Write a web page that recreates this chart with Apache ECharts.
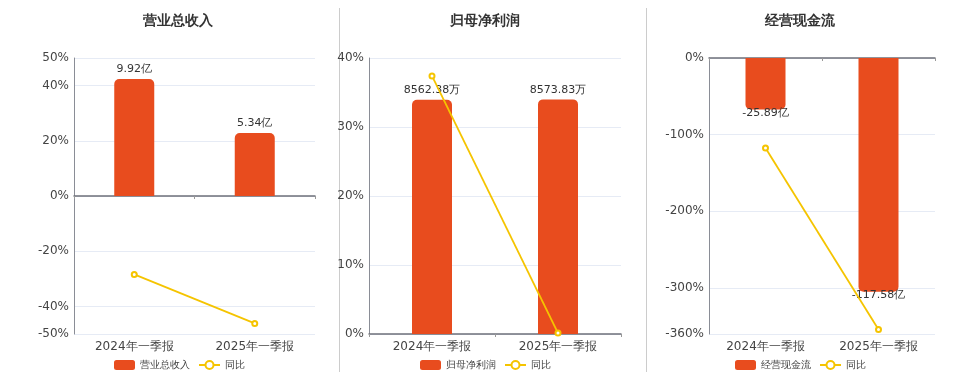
<!DOCTYPE html>
<html><head><meta charset="utf-8">
<script src="https://cdn.jsdelivr.net/npm/echarts@6/dist/echarts.min.js"></script>
<style>html,body{margin:0;padding:0;background:#fff}#c{width:960px;height:372px}</style>
</head><body><div id="c"></div>
<script>
const categories = ['2024年一季报', '2025年一季报'];
const titles = ['营业总收入', '归母净利润', '经营现金流'];
const revenue = [9.92, 5.34];
const revenueYoY = [-28.4, -46.17];
const profit = [8562.38, 8573.83];
const profitYoY = [37.4, 0.13];
const cashflow = [-25.89, -117.58];
const cashflowYoY = [-117.3, -354.15];
const units = ['亿', '万', '亿'];

const barColor = '#e84c1e';
const lineColor = '#f5c400';
const panels = [
  {title: titles[0], bars: revenue, yoy: revenueYoY, unit: units[0], grid: {left: 74, right: 645, top: 58, bottom: 38},
   pMin: -50, pMax: 50, bMin: -11.7, bMax: 11.7, titleX: 173, legendX: 109, neg: false},
  {title: titles[1], bars: profit, yoy: profitYoY, unit: units[1], grid: {left: 369, right: 339, top: 58, bottom: 38},
   pMin: 0, pMax: 40, bMin: 0, bMax: 10087, titleX: 480, legendX: 415, neg: false},
  {title: titles[2], bars: cashflow, yoy: cashflowYoY, unit: units[2], grid: {left: 709, right: 25, top: 58, bottom: 38},
   pMin: -360, pMax: 0, bMin: -138.9, bMax: 0, titleX: 795, legendX: 730, neg: true}
];

const option = {
  animation: false,
  textStyle: {fontFamily: 'DejaVu Sans, sans-serif'},
  title: [], legend: [], grid: [], xAxis: [], yAxis: [], series: [],
  graphic: [
    {type: 'line', shape: {x1: 339.5, y1: 8, x2: 339.5, y2: 372}, style: {stroke: '#cccccc', lineWidth: 1}},
    {type: 'line', shape: {x1: 646.5, y1: 8, x2: 646.5, y2: 372}, style: {stroke: '#cccccc', lineWidth: 1}}
  ]
};

panels.forEach((p, i) => {
  option.title.push({text: p.title, left: p.titleX, top: 9, textAlign: 'center',
    textStyle: {fontSize: 14, fontWeight: 'bold', color: '#333'}});
  option.legend.push({left: p.legendX, top: 355, itemWidth: 21, itemHeight: 10, itemGap: 8,
    textStyle: {fontSize: 10, color: '#444'},
    data: [{name: p.title, icon: 'roundRect'}, {name: '同比' + ' '.repeat(i)}]});
  option.grid.push(p.grid);
  option.xAxis.push({type: 'category', gridIndex: i, data: categories, position: 'bottom',
    axisLine: {show: false, onZero: false}, axisTick: {show: false},
    axisLabel: {fontSize: 12, color: '#444', margin: 7}});
  option.xAxis.push({type: 'category', gridIndex: i, data: categories, position: 'bottom',
    axisLine: {show: true, onZero: true, lineStyle: {color: '#6e7079', width: 1.5}},
    axisTick: {show: true, length: 3, lineStyle: {color: '#999'}}, axisLabel: {show: false}});
  option.yAxis.push({type: 'value', gridIndex: i, min: p.pMin, max: p.pMax,
    axisLine: {show: true, lineStyle: {color: '#8a8d96'}}, axisTick: {show: false},
    axisLabel: {fontSize: 12, color: '#444', margin: 5, formatter: '{value}%'},
    splitLine: {lineStyle: {color: '#e6ebf5'}}});
  option.yAxis.push({type: 'value', gridIndex: i, min: p.bMin, max: p.bMax, show: false,
    splitLine: {show: false}});
  option.series.push({name: p.title, type: 'bar', xAxisIndex: 2 * i, yAxisIndex: 2 * i + 1,
    data: p.bars, barWidth: 40,
    itemStyle: {color: barColor, borderRadius: p.neg ? [0, 0, 5, 5] : [5, 5, 0, 0]},
    label: {show: true, position: p.neg ? 'bottom' : 'top', distance: p.neg ? -2 : 4,
      fontSize: 11, color: '#333', formatter: (d) => d.value + p.unit}});
  option.series.push({name: '同比' + ' '.repeat(i), type: 'line', xAxisIndex: 2 * i, yAxisIndex: 2 * i,
    data: p.yoy, symbol: 'emptyCircle', symbolSize: 5, z: 5,
    itemStyle: {color: lineColor}, lineStyle: {color: lineColor, width: 1.8}});
});

const chart = echarts.init(document.getElementById('c'));
chart.setOption(option);
</script></body></html>
